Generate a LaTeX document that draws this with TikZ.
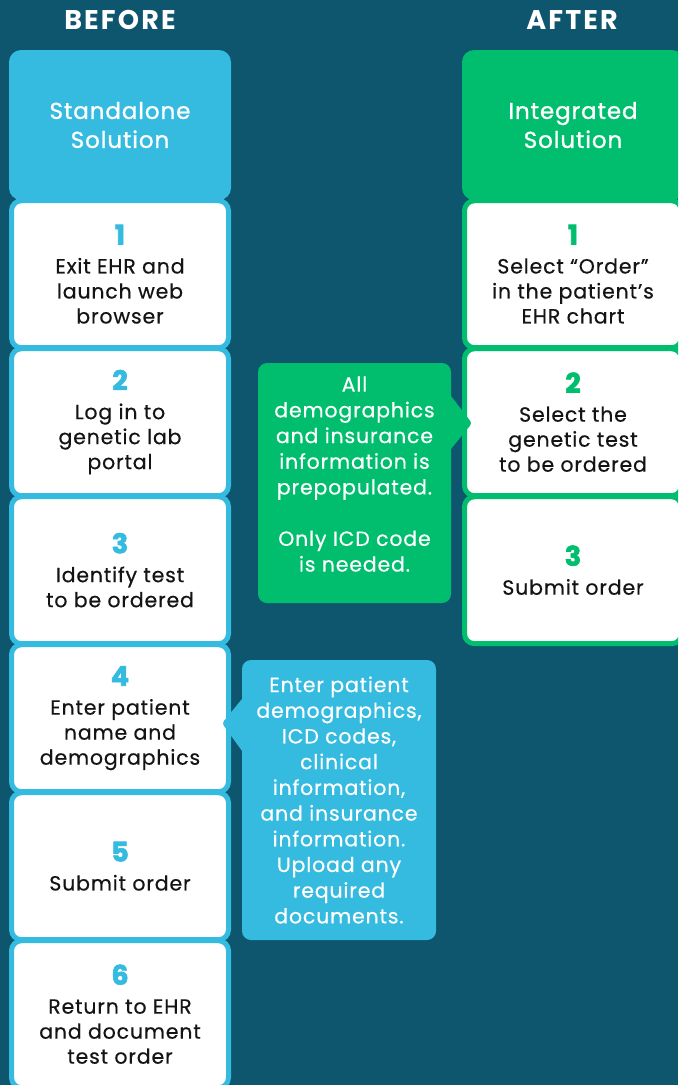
\documentclass[tikz,border=0pt]{standalone}
\usepackage{fontspec}
\setmainfont{Poppins}[LetterSpace=4, FakeBold=0.4]
\newfontfamily\headfont{Poppins}[LetterSpace=8]
\newfontfamily\titlefont{Poppins}[LetterSpace=4, FakeBold=1]
\newfontfamily\numfont{Poppins}[FakeBold=2.5]
\usetikzlibrary{positioning,calc}
\definecolor{bgteal}{RGB}{14,85,110}
\definecolor{stdcyan}{RGB}{53,187,224}
\definecolor{intgreen}{RGB}{0,190,110}
\definecolor{txtdark}{RGB}{20,20,20}
\tikzset{
  % column heading above each side
  colhead/.style={font=\headfont\fontsize{27}{28}\selectfont\bfseries, text=white},
  % coloured title block on top of a column
  titlebox/.style={rectangle, rounded corners=12pt, minimum width=222pt,
                   minimum height=150pt, align=center, text=white,
                   font=\titlefont\fontsize{23}{29}\selectfont, inner sep=0pt},
  % white step card with a coloured rim
  stepbox/.style={rectangle, fill=white, line width=5pt, rounded corners=10pt,
                  minimum width=217pt, minimum height=147pt, align=center,
                  text=txtdark, font=\fontsize{20.5}{25}\selectfont, inner sep=0pt},
  % speech-bubble note beside a step
  notebox/.style={rectangle, rounded corners=9pt, align=center, text=white,
                  font=\fontsize{20.5}{25.7}\selectfont, inner sep=0pt}
}
% big step number on its own line
\newcommand{\stepnum}[2]{{\numfont\bfseries\fontsize{27}{27}\selectfont\textcolor{#1}{#2}}\\[4pt]}

\begin{document}
\begin{tikzpicture}[x=1pt,y=-1pt]

\clip (0,0) rectangle (678,1085);
\fill[bgteal] (0,0) rectangle (678,1085);

% ============== headings ==============
\node[colhead] (hBefore) at (120,20) {BEFORE};
\node[colhead] (hAfter) at (572,20) {AFTER};

% ============== BEFORE: standalone column ==============
\node[titlebox, fill=stdcyan] (tStd) at (120,125) {Standalone\\Solution};

\node[stepbox, draw=stdcyan, below=-2pt of tStd] (sL1)
  {\stepnum{stdcyan}{1}Exit EHR and\\launch web\\browser};
\node[stepbox, draw=stdcyan, below=-4pt of sL1] (sL2)
  {\stepnum{stdcyan}{2}Log in to\\genetic lab\\portal};
\node[stepbox, draw=stdcyan, below=-4pt of sL2] (sL3)
  {\stepnum{stdcyan}{3}Identify test\\to be ordered};
\node[stepbox, draw=stdcyan, below=-4pt of sL3] (sL4)
  {\stepnum{stdcyan}{4}Enter patient\\name and\\demographics};
\node[stepbox, draw=stdcyan, below=-4pt of sL4] (sL5)
  {\stepnum{stdcyan}{5}Submit order};
\node[stepbox, draw=stdcyan, below=-4pt of sL5] (sL6)
  {\stepnum{stdcyan}{6}Return to EHR\\and document\\test order};

% ============== AFTER: integrated column ==============
\node[titlebox, fill=intgreen] (tInt) at (573,125) {Integrated\\Solution};

\node[stepbox, draw=intgreen, below=-2pt of tInt] (sR1)
  {\stepnum{intgreen}{1}Select “Order”\\in the patient’s\\EHR chart};
\node[stepbox, draw=intgreen, below=-4pt of sR1] (sR2)
  {\stepnum{intgreen}{2}Select the\\genetic test\\to be ordered};
\node[stepbox, draw=intgreen, below=-4pt of sR2] (sR3)
  {\stepnum{intgreen}{3}Submit order};

% ============== notes ==============
\node[notebox, fill=intgreen, minimum width=193pt, minimum height=240pt, text depth=18pt] (nInt) at (354.5,483)
  {All\\demographics\\and insurance\\information is\\prepopulated.\\[25.7pt]Only ICD code\\is needed.};
\fill[intgreen] ($(nInt.east)+(-1,-88)$) [rounded corners=3pt]-- ($(sR2.west)+(10,1)$)
  [sharp corners]-- ($(nInt.east)+(-1,-33)$) -- cycle;

\node[notebox, fill=stdcyan, minimum width=194pt, minimum height=280pt] (nStd) at (339,800)
  {Enter patient\\demographics,\\ICD codes,\\clinical\\information,\\and insurance\\information.\\Upload any\\required\\documents.};
\fill[stdcyan] ($(nStd.west)+(1,-102)$) [rounded corners=3pt]-- ($(sL4.east)+(-9,5)$)
  [sharp corners]-- ($(nStd.west)+(1,-48)$) -- cycle;

\end{tikzpicture}
\end{document}
